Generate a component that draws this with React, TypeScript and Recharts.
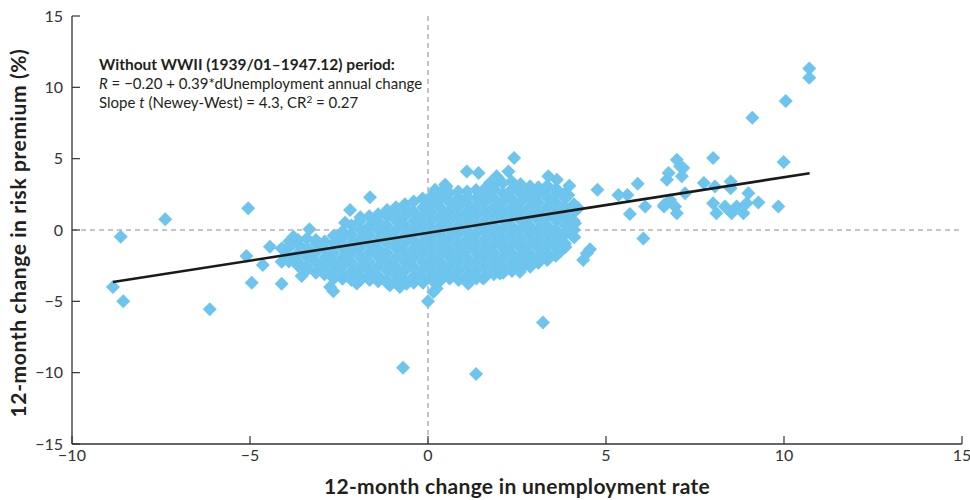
import { ReferenceLine, Scatter, ScatterChart, XAxis, YAxis } from "recharts";

const xTicks = [-10, -5, 0, 5, 10, 15];
const yTicks = [-15, -10, -5, 0, 5, 10, 15];

// regression line end points
const fitX = [-8.85, 10.72];
const fitY = [-3.65, 3.98];

const farOutliers: [number, number][] = [
  [-8.85, -4.0], [-8.56, -5.0], [-8.63, -0.47], [-7.38, 0.75], [-6.13, -5.56], [-5.05, 1.53],
  [-0.7, -9.65], [1.35, -10.1], [3.23, -6.48],
];

const leftFringe: [number, number][] = [
  [-5.1, -1.83], [-4.95, -3.7], [-4.64, -2.46], [-4.44, -1.17], [-4.11, -1.29], [-4.02, -1.45],
  [-4.11, -2.23], [-4.11, -3.76], [-3.78, -0.47], [-3.55, -3.22], [-3.33, 0.05], [-3.13, -2.93],
  [-2.75, -3.99], [-2.66, -4.3], [-2.33, 0.5], [-2.19, 1.41], [-2.0, -3.75], [-1.63, 2.3],
  [-1.63, -3.17], [-1.07, -3.87], [-0.79, -3.99], [-0.6, -3.76],
];

// dense cloud, read column by column
const cloudWest: [number, number][] = [
  [-3.9, -0.8], [-3.92, -1.28], [-3.89, -1.92], [-3.91, -2.2],
  [-3.65, -0.7], [-3.66, -0.96], [-3.64, -1.6], [-3.66, -2.24], [-3.65, -2.5],
  [-3.4, -0.6], [-3.41, -1.28], [-3.39, -1.92], [-3.41, -2.56], [-3.4, -2.8],
  [-3.15, -0.7], [-3.14, -0.96], [-3.16, -1.6], [-3.15, -2.24], [-3.14, -2.88], [-3.15, -3.0],
  [-2.9, -0.8], [-2.91, -1.28], [-2.89, -1.92], [-2.9, -2.56], [-2.91, -3.1],
  [-2.65, -0.4], [-2.64, -0.96], [-2.66, -1.6], [-2.65, -2.24], [-2.64, -2.88], [-2.65, -3.4],
  [-2.4, -0.1], [-2.41, -0.64], [-2.39, -1.28], [-2.4, -1.92], [-2.41, -2.56], [-2.39, -3.2], [-2.4, -3.42],
  [-2.15, 0.32], [-2.16, -0.32], [-2.14, -0.96], [-2.15, -1.6], [-2.16, -2.24], [-2.14, -2.88], [-2.15, -3.5],
  [-1.9, 0.9], [-1.91, 0.64], [-1.89, 0.0], [-1.9, -0.64], [-1.91, -1.28], [-1.89, -1.92], [-1.9, -2.56], [-1.91, -3.2], [-1.9, -3.5],
  [-1.65, 0.96], [-1.64, 0.32], [-1.66, -0.32], [-1.65, -0.96], [-1.64, -1.6], [-1.66, -2.24], [-1.65, -2.88], [-1.64, -3.5],
  [-1.4, 1.1], [-1.41, 0.64], [-1.39, 0.0], [-1.4, -0.64], [-1.41, -1.28], [-1.39, -1.92], [-1.4, -2.56], [-1.41, -3.2], [-1.4, -3.6],
  [-1.15, 1.4], [-1.14, 0.96], [-1.16, 0.32], [-1.15, -0.32], [-1.14, -0.96], [-1.16, -1.6], [-1.15, -2.24], [-1.14, -2.88], [-1.16, -3.52], [-1.15, -3.7],
  [-0.9, 1.6], [-0.91, 1.28], [-0.89, 0.64], [-0.9, 0.0], [-0.91, -0.64], [-0.89, -1.28], [-0.9, -1.92], [-0.91, -2.56], [-0.89, -3.2], [-0.9, -3.7],
  [-0.65, 1.8], [-0.64, 1.6], [-0.66, 0.96], [-0.65, 0.32], [-0.64, -0.32], [-0.66, -0.96], [-0.65, -1.6], [-0.64, -2.24], [-0.66, -2.88], [-0.65, -3.52], [-0.64, -3.7],
  [-0.4, 2.0], [-0.41, 1.28], [-0.39, 0.64], [-0.4, 0.0], [-0.41, -0.64], [-0.39, -1.28], [-0.4, -1.92], [-0.41, -2.56], [-0.39, -3.2], [-0.4, -3.7],
  [-0.15, 2.2], [-0.14, 1.6], [-0.16, 0.96], [-0.15, 0.32], [-0.14, -0.32], [-0.16, -0.96], [-0.15, -1.6], [-0.14, -2.24], [-0.16, -2.88], [-0.15, -3.52], [-0.14, -3.7],
];

const cloudEast: [number, number][] = [
  [0.1, 2.4], [0.11, 1.92], [0.09, 1.28], [0.1, 0.64], [0.11, 0.0], [0.09, -0.64], [0.1, -1.28], [0.11, -1.92], [0.09, -2.56], [0.1, -3.2], [0.11, -3.5],
  [0.35, 2.6], [0.36, 2.24], [0.34, 1.6], [0.35, 0.96], [0.36, 0.32], [0.34, -0.32], [0.35, -0.96], [0.36, -1.6], [0.34, -2.24], [0.35, -2.88], [0.36, -3.5],
  [0.6, 2.6], [0.61, 1.92], [0.59, 1.28], [0.6, 0.64], [0.61, 0.0], [0.59, -0.64], [0.6, -1.28], [0.61, -1.92], [0.59, -2.56], [0.6, -3.2], [0.61, -3.4],
  [0.85, 2.7], [0.86, 2.24], [0.84, 1.6], [0.85, 0.96], [0.86, 0.32], [0.84, -0.32], [0.85, -0.96], [0.86, -1.6], [0.84, -2.24], [0.85, -2.88], [0.86, -3.5],
  [1.1, 2.7], [1.11, 2.3], [1.09, 1.92], [1.1, 1.28], [1.11, 0.64], [1.09, 0.0], [1.1, -0.64], [1.11, -1.28], [1.09, -1.92], [1.1, -2.56], [1.11, -3.2], [1.1, -3.5],
  [1.35, 2.8], [1.36, 2.24], [1.34, 1.6], [1.35, 0.96], [1.36, 0.32], [1.34, -0.32], [1.35, -0.96], [1.36, -1.6], [1.34, -2.24], [1.35, -2.88], [1.36, -3.4],
  [1.6, 2.9], [1.61, 2.56], [1.59, 1.92], [1.6, 1.28], [1.61, 0.64], [1.59, 0.0], [1.6, -0.64], [1.61, -1.28], [1.59, -1.92], [1.6, -2.56], [1.61, -3.2], [1.6, -3.3],
  [1.85, 3.2], [1.86, 2.88], [1.84, 2.24], [1.85, 1.6], [1.86, 0.96], [1.84, 0.32], [1.85, -0.32], [1.86, -0.96], [1.84, -1.6], [1.85, -2.24], [1.86, -2.88], [1.85, -3.1],
  [2.1, 3.3], [2.11, 2.56], [2.09, 1.92], [2.1, 1.28], [2.11, 0.64], [2.09, 0.0], [2.1, -0.64], [2.11, -1.28], [2.09, -1.92], [2.1, -2.56], [2.11, -3.0],
  [2.35, 3.4], [2.36, 2.88], [2.34, 2.24], [2.35, 1.6], [2.36, 0.96], [2.34, 0.32], [2.35, -0.32], [2.36, -0.96], [2.34, -1.6], [2.35, -2.24], [2.36, -2.88],
  [2.6, 3.2], [2.61, 2.56], [2.59, 1.92], [2.6, 1.28], [2.61, 0.64], [2.59, 0.0], [2.6, -0.64], [2.61, -1.28], [2.59, -1.92], [2.6, -2.56], [2.61, -2.7],
  [2.85, 3.0], [2.86, 2.88], [2.84, 2.24], [2.85, 1.6], [2.86, 0.96], [2.84, 0.32], [2.85, -0.32], [2.86, -0.96], [2.84, -1.6], [2.85, -2.24], [2.86, -2.5],
  [3.1, 3.0], [3.11, 2.56], [3.09, 1.92], [3.1, 1.28], [3.11, 0.64], [3.09, 0.0], [3.1, -0.64], [3.11, -1.28], [3.09, -1.92], [3.1, -2.3],
  [3.35, 3.1], [3.36, 2.24], [3.34, 2.88], [3.35, 1.6], [3.36, 0.96], [3.34, 0.32], [3.35, -0.32], [3.36, -0.96], [3.34, -1.6], [3.35, -2.1],
  [3.6, 2.9], [3.61, 2.56], [3.59, 1.92], [3.6, 1.28], [3.61, 0.64], [3.59, 0.0], [3.6, -0.64], [3.61, -1.28], [3.59, -1.8],
  [3.85, 2.6], [3.86, 2.24], [3.84, 1.6], [3.85, 0.96], [3.86, 0.32], [3.84, -0.32], [3.85, -0.96], [3.86, -1.2],
  [4.1, 1.8], [4.11, 1.28], [4.09, 0.64], [4.1, 0.0], [4.11, -0.5],
];

const rightFringe: [number, number][] = [
  [0.2, 2.82], [0.52, 3.05], [0.48, 3.17], [1.09, 4.1], [1.42, 3.99], [1.74, 3.29], [1.93, 3.76],
  [2.26, 4.1], [2.42, 5.05], [2.87, 3.05], [3.06, 2.58], [3.38, 3.76], [3.62, 3.52], [3.97, 3.1],
  [3.94, 2.46], [4.22, 1.53], [4.13, 0.47], [4.04, -0.35], [4.76, 2.82], [3.71, -1.53], [3.29, -1.76],
  [4.46, -1.64], [4.55, -1.35], [4.36, -2.11], [2.87, -2.58], [2.58, -2.93], [2.02, -3.05], [1.55, -3.4],
  [1.13, -3.76], [0.34, -3.52], [0.43, -3.29], [0.15, -4.34], [0.24, -4.1], [0.0, -5.0],
];

const rightTail: [number, number][] = [
  [5.35, 2.46], [5.6, 2.46], [5.89, 3.24], [5.67, 1.13], [6.1, 1.64], [6.05, -0.59], [6.63, 1.64],
  [6.63, 1.76], [6.8, 2.11], [6.94, 1.64], [6.99, 1.17], [6.71, 3.52], [6.76, 3.99], [6.99, 4.93],
  [7.08, 4.46], [7.13, 3.76], [7.17, 4.34], [7.22, 2.58], [7.75, 3.29], [8.01, 5.05], [8.06, 3.05],
  [8.5, 3.4], [8.5, 2.93], [8.01, 1.88], [8.1, 1.17], [8.34, 1.64], [8.53, 1.17], [8.67, 1.64],
  [8.86, 1.17], [9.0, 2.58], [8.95, 1.88], [9.28, 1.93], [9.84, 1.64], [9.99, 4.77], [9.11, 7.87],
  [10.05, 9.04], [10.71, 10.68], [10.71, 11.32],
];

const points = [...farOutliers, ...leftFringe, ...cloudWest, ...cloudEast, ...rightFringe, ...rightTail].map(
  ([x, y]) => ({ x, y })
);
const fitLine = fitX.map((x, i) => ({ x, y: fitY[i] }));

const AXIS = "#333333";
const TEXT = "#231f20";
const FONT = "Lato, 'Open Sans', sans-serif";

const fmt = (v: number) => (v < 0 ? `\u2212${Math.abs(v)}` : `${v}`);

const Diamond = (props: any) => {
  const { cx, cy } = props;
  if (cx == null || cy == null) return <g />;
  return <path d={`M${cx},${cy - 7}L${cx + 7},${cy}L${cx},${cy + 7}L${cx - 7},${cy}Z`} fill="#6dc5ee" />;
};

const BottomTick = (props: any) => {
  const { x, y, payload } = props;
  return (
    <g>
      <line x1={x} x2={x} y1={y} y2={y - 8} stroke={AXIS} strokeWidth={1.2} />
      <text x={x} y={y + 17} textAnchor="middle" fontSize={16} fill={AXIS} fontFamily={FONT}>
        {fmt(payload.value)}
      </text>
    </g>
  );
};

const LeftTick = (props: any) => {
  const { x, y, payload } = props;
  return (
    <g>
      <line x1={x} x2={x + 8} y1={y} y2={y} stroke={AXIS} strokeWidth={1.2} />
      <text x={x - 9} y={y + 5.5} textAnchor="end" fontSize={16} fill={AXIS} fontFamily={FONT}>
        {fmt(payload.value)}
      </text>
    </g>
  );
};

export default function App() {
  return (
    <div style={{ position: "fixed", left: 0, top: 0, width: 970, height: 500, background: "#fff" }}>
      <ScatterChart width={970} height={500} margin={{ top: 16, right: 8, bottom: 0, left: 0 }}>
        <XAxis
          type="number"
          dataKey="x"
          domain={[-10, 15]}
          ticks={xTicks}
          height={56}
          tickSize={0}
          tickMargin={0}
          tickLine={false}
          tick={<BottomTick />}
          axisLine={{ stroke: AXIS, strokeWidth: 1.3 }}
          allowDataOverflow
        />
        <XAxis
          xAxisId="top"
          orientation="top"
          type="number"
          dataKey="x"
          domain={[-10, 15]}
          ticks={xTicks}
          height={0}
          mirror
          tick={false}
          tickSize={8}
          tickLine={{ stroke: AXIS, strokeWidth: 1.2 }}
          axisLine={{ stroke: AXIS, strokeWidth: 1.3 }}
        />
        <YAxis
          type="number"
          dataKey="y"
          domain={[-15, 15]}
          ticks={yTicks}
          width={72}
          tickSize={0}
          tickMargin={0}
          tickLine={false}
          tick={<LeftTick />}
          axisLine={{ stroke: AXIS, strokeWidth: 1.3 }}
          allowDataOverflow
        />
        <YAxis
          yAxisId="right"
          orientation="right"
          type="number"
          dataKey="y"
          domain={[-15, 15]}
          ticks={yTicks}
          width={0}
          mirror
          tick={false}
          tickSize={8}
          tickLine={{ stroke: AXIS, strokeWidth: 1.2 }}
          axisLine={{ stroke: AXIS, strokeWidth: 1.3 }}
        />
        <ReferenceLine x={0} stroke="#8a8a8a" strokeDasharray="5 4" strokeWidth={1} />
        <ReferenceLine y={0} stroke="#8a8a8a" strokeDasharray="5 4" strokeWidth={1} />
        <Scatter data={points} shape={<Diamond />} isAnimationActive={false} />
        <Scatter
          data={fitLine}
          line={{ stroke: "#1a1a1a", strokeWidth: 2.6 }}
          lineType="joint"
          shape={() => <g />}
          isAnimationActive={false}
        />
      </ScatterChart>
      <svg
        width={970}
        height={500}
        style={{ position: "absolute", left: 0, top: 0, pointerEvents: "none" }}
        fontFamily={FONT}
      >
        <text x={99} y={70} fontSize={15.5} fontWeight={700} fill={TEXT}>
          Without WWII (1939/01–1947.12) period:
        </text>
        <text x={99} y={89} fontSize={15} fill={TEXT}>
          <tspan fontStyle="italic">R</tspan> = −0.20 + 0.39*dUnemployment annual change
        </text>
        <text x={99} y={108} fontSize={15} fill={TEXT}>
          Slope <tspan fontStyle="italic">t</tspan> (Newey-West) = 4.3, CR
          <tspan fontSize={10} dy={-5}>2</tspan>
          <tspan dy={5}> = 0.27</tspan>
        </text>
        <text x={517} y={494} textAnchor="middle" fontSize={21} fontWeight={700} letterSpacing={0.3} fill={TEXT}>
          12-month change in unemployment rate
        </text>
        <text
          x={0}
          y={0}
          transform="translate(26,233) rotate(-90)"
          textAnchor="middle"
          fontSize={21}
          fontWeight={700}
          letterSpacing={0.6}
          fill={TEXT}
        >
          12-month change in risk premium (%)
        </text>
      </svg>
    </div>
  );
}
